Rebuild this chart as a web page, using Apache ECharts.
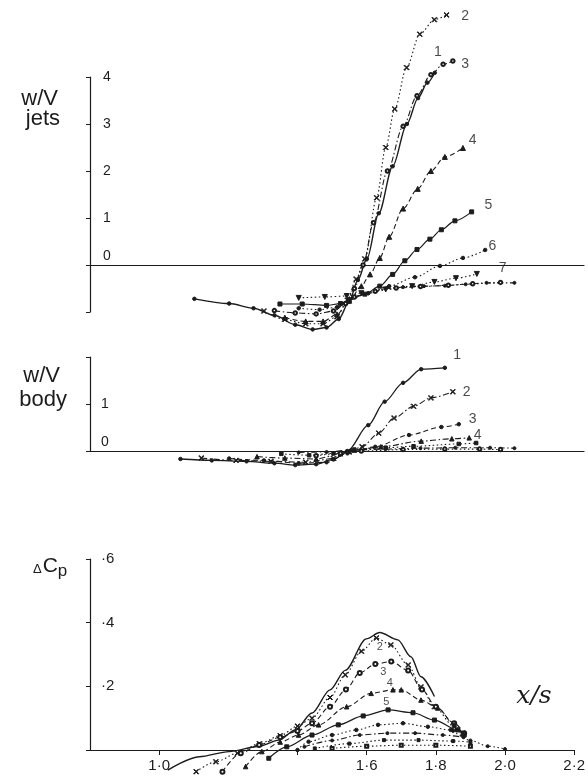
<!DOCTYPE html>
<html>
<head>
<meta charset="utf-8">
<script src="https://cdn.jsdelivr.net/npm/echarts@6/dist/echarts.min.js"></script>
<style>
html, body { margin: 0; padding: 0; background: #fff; }
#chart { width: 588px; height: 780px; }
</style>
</head>
<body>
<div id="chart"></div>
<script>
// x/s axis, shared by the three panels
const xTickValues = [1.0, 1.4, 1.6, 1.8, 2.0, 2.2];
const xLabelValues = [1.0, 1.6, 1.8, 2.0, 2.2];

// w/V jets, curves 1..7 and the two flat ones underneath
const jets1 = [[1.10,-0.72],[1.20,-0.82],[1.27,-0.92],[1.33,-1.07],[1.39,-1.27],[1.44,-1.37],[1.48,-1.33],[1.515,-1.15],[1.545,-0.78],[1.57,-0.32],[1.596,0.13],[1.63,1.1],[1.67,2.1],[1.711,3.0],[1.743,3.55],[1.77,3.88],[1.791,4.09]];
const jets2 = [[1.30,-0.98],[1.36,-1.16],[1.42,-1.25],[1.47,-1.25],[1.51,-1.1],[1.54,-0.75],[1.565,-0.3],[1.59,0.13],[1.624,1.43],[1.65,2.5],[1.676,3.32],[1.71,4.2],[1.748,4.91],[1.79,5.22],[1.825,5.32]];
const jets3 = [[1.33,-0.97],[1.39,-1.02],[1.45,-1.04],[1.50,-0.98],[1.535,-0.82],[1.56,-0.5],[1.585,0.0],[1.615,0.9],[1.655,2.0],[1.70,2.95],[1.74,3.6],[1.78,4.05],[1.815,4.27],[1.843,4.34]];
const jets4 = [[1.36,-1.12],[1.42,-1.2],[1.47,-1.2],[1.51,-1.05],[1.545,-0.76],[1.58,-0.45],[1.605,-0.2],[1.633,0.15],[1.66,0.6],[1.70,1.2],[1.742,1.62],[1.78,2.0],[1.82,2.3],[1.872,2.49]];
const jets5 = [[1.346,-0.83],[1.41,-0.83],[1.48,-0.86],[1.52,-0.82],[1.545,-0.74],[1.59,-0.62],[1.633,-0.45],[1.67,-0.2],[1.705,0.09],[1.74,0.33],[1.777,0.55],[1.81,0.75],[1.849,0.94],[1.897,1.13]];
const jets6 = [[1.40,-0.92],[1.46,-0.95],[1.51,-0.9],[1.545,-0.74],[1.60,-0.6],[1.66,-0.45],[1.734,-0.26],[1.806,-0.02],[1.872,0.15],[1.936,0.32]];
const jets7 = [[1.40,-0.70],[1.475,-0.68],[1.538,-0.66],[1.58,-0.6],[1.65,-0.52],[1.726,-0.45],[1.79,-0.36],[1.852,-0.28],[1.912,-0.19]];
const jets8 = [[1.545,-0.73],[1.60,-0.6],[1.65,-0.5],[1.70,-0.47],[1.76,-0.45],[1.82,-0.44],[1.88,-0.41],[1.94,-0.38],[2.02,-0.38]];
const jets9 = [[1.56,-0.68],[1.62,-0.56],[1.68,-0.49],[1.75,-0.46],[1.83,-0.43],[1.90,-0.40],[1.98,-0.37]];
const jetsTags = [['2',1.878,5.30],['1',1.80,4.52],['3',1.878,4.28],['4',1.90,2.66],['5',1.945,1.28],['6',1.957,0.40],['7',1.986,-0.06]];

// w/V body
const body1 = [[1.06,-0.17],[1.15,-0.20],[1.25,-0.22],[1.33,-0.26],[1.39,-0.30],[1.45,-0.28],[1.50,-0.18],[1.54,0.0],[1.60,0.55],[1.647,1.05],[1.70,1.45],[1.752,1.74],[1.82,1.77]];
const body2 = [[1.12,-0.15],[1.22,-0.20],[1.32,-0.22],[1.42,-0.24],[1.50,-0.16],[1.545,-0.02],[1.582,0.09],[1.63,0.38],[1.674,0.70],[1.73,0.95],[1.78,1.13],[1.843,1.26]];
const body3 = [[1.20,-0.16],[1.30,-0.20],[1.40,-0.26],[1.48,-0.24],[1.54,-0.05],[1.62,0.09],[1.717,0.34],[1.81,0.51],[1.86,0.57]];
const body4 = [[1.28,-0.12],[1.36,-0.15],[1.45,-0.17],[1.52,-0.06],[1.56,0.02],[1.636,0.09],[1.752,0.21],[1.84,0.26],[1.89,0.28]];
const body5 = [[1.35,-0.06],[1.43,-0.09],[1.50,-0.05],[1.56,0.03],[1.65,0.07],[1.73,0.10],[1.86,0.15],[1.91,0.17]];
const body6 = [[1.40,-0.03],[1.48,-0.02],[1.55,0.02],[1.65,0.04],[1.75,0.06],[1.85,0.07],[1.95,0.07],[2.02,0.06]];
const body7 = [[1.45,-0.10],[1.52,-0.05],[1.58,0.0],[1.70,0.03],[1.82,0.04],[1.92,0.04],[1.98,0.03]];
const bodyTags = [['1',1.855,2.04],['2',1.883,1.26],['3',1.90,0.68],['4',1.914,0.34]];

// delta Cp
const cp1 = [[1.025,-0.063],[1.116,-0.021],[1.202,-0.005],[1.29,0.012],[1.346,0.031],[1.394,0.063],[1.442,0.116],[1.494,0.189],[1.538,0.25],[1.599,0.349],[1.638,0.369],[1.69,0.346],[1.728,0.293],[1.757,0.23],[1.796,0.168]];
const cp2 = [[1.107,-0.068],[1.164,-0.037],[1.226,-0.01],[1.29,0.02],[1.35,0.045],[1.40,0.075],[1.442,0.10],[1.494,0.165],[1.538,0.236],[1.585,0.31],[1.628,0.352],[1.67,0.33],[1.72,0.267],[1.757,0.198],[1.796,0.136],[1.853,0.073],[1.878,0.053]];
const cp3 = [[1.183,-0.068],[1.236,-0.01],[1.289,0.016],[1.35,0.04],[1.40,0.06],[1.442,0.084],[1.494,0.136],[1.54,0.19],[1.58,0.242],[1.625,0.27],[1.671,0.278],[1.72,0.25],[1.76,0.19],[1.80,0.136],[1.853,0.084],[1.882,0.053]];
const cp4 = [[1.25,-0.052],[1.297,-0.005],[1.35,0.025],[1.403,0.047],[1.461,0.079],[1.542,0.136],[1.613,0.178],[1.676,0.189],[1.70,0.189],[1.757,0.157],[1.806,0.132],[1.853,0.079],[1.88,0.05]];
const cp5 = [[1.317,-0.026],[1.369,0.01],[1.442,0.047],[1.518,0.079],[1.59,0.107],[1.662,0.126],[1.734,0.117],[1.796,0.094],[1.863,0.063],[1.882,0.047]];
const cp6 = [[1.40,0.0],[1.432,0.026],[1.50,0.047],[1.57,0.063],[1.633,0.079],[1.705,0.084],[1.777,0.073],[1.843,0.063],[1.88,0.05]];
const cp7 = [[1.42,0.01],[1.50,0.03],[1.58,0.047],[1.66,0.053],[1.74,0.053],[1.82,0.047],[1.88,0.04]];
const cp8 = [[1.45,0.005],[1.55,0.02],[1.65,0.031],[1.75,0.031],[1.85,0.028],[1.90,0.025]];
const cp9 = [[1.50,0.005],[1.60,0.012],[1.70,0.015],[1.80,0.015],[1.90,0.012]];
const cpTail = [[1.85,0.06],[1.90,0.03],[1.95,0.012],[2.0,0.003]];
const cpTags = [['2',1.638,0.323],['3',1.648,0.246],['4',1.667,0.21],['5',1.657,0.152]];

const ink = '#1c1c1c';
const font = 'Liberation Sans';
const dashes = { solid: 'solid', dot: [1.5, 2.5], dash: [5, 3], dashdot: [6, 2.5, 1.5, 2.5] };
const xMark = 'path://M0,1L1,0L5,4L9,0L10,1L6,5L10,9L9,10L5,6L1,10L0,9L4,5Z';

// one hand-drawn curve
const curve = (data, panel, dash, symbol, size, width, rotate) => ({
  type: 'line',
  data: data,
  xAxisIndex: panel,
  yAxisIndex: panel,
  smooth: 0.3,
  smoothMonotone: 'x',
  clip: false,
  silent: true,
  symbol: symbol || 'none',
  showSymbol: !!symbol,
  symbolSize: size || 4,
  symbolRotate: rotate || 0,
  lineStyle: { color: ink, width: width || 1.1, type: dashes[dash] },
  itemStyle: { color: ink, borderColor: ink, borderWidth: 1 }
});

// curve numbers written next to the curves
const tags = (list, panel, size) => ({
  type: 'scatter',
  xAxisIndex: panel,
  yAxisIndex: panel,
  symbolSize: 0,
  clip: false,
  silent: true,
  data: list.map(t => ({ name: t[0], value: [t[1], t[2]] })),
  label: { show: true, position: 'inside', formatter: '{b}', color: ink, fontSize: size, fontFamily: font }
});

const shiftedZero = {
  z: { padding: [0, 0, 18, 0], fontSize: 14, color: ink, fontFamily: font }
};

const mychart = echarts.init(document.getElementById('chart'));
const options = {
  animation: false,
  backgroundColor: '#fff',
  grid: [
    { left: 90, right: 4, top: 77, height: 235 },
    { left: 90, right: 4, top: 357, height: 94 },
    { left: 90, right: 11, top: 559, height: 191 }
  ],
  xAxis: [
    {
      gridIndex: 0, type: 'value', min: 0.8, max: 2.22,
      axisLine: { onZero: true, lineStyle: { color: ink, width: 1.2 } },
      axisTick: { show: false }, axisLabel: { show: false }, splitLine: { show: false }
    },
    {
      gridIndex: 1, type: 'value', min: 0.8, max: 2.22,
      axisLine: { onZero: true, lineStyle: { color: ink, width: 1.2 } },
      axisTick: { show: false }, axisLabel: { show: false }, splitLine: { show: false }
    },
    {
      gridIndex: 2, type: 'value', min: 0.8, max: 2.2,
      axisLine: { lineStyle: { color: ink, width: 1.2 } },
      axisTick: { customValues: xTickValues, length: 5, lineStyle: { color: ink } },
      axisLabel: {
        customValues: xLabelValues, margin: 8, color: ink, fontSize: 15, fontFamily: font,
        formatter: v => v.toFixed(1).replace('.', '·')
      },
      splitLine: { show: false }
    }
  ],
  yAxis: [
    {
      gridIndex: 0, type: 'value', min: -1, max: 4, interval: 1,
      axisLine: { show: true, onZero: false, lineStyle: { color: ink, width: 1.2 } },
      axisTick: { length: 4, lineStyle: { color: ink } },
      axisLabel: {
        inside: true, margin: 13, color: ink, fontSize: 14, fontFamily: font, rich: shiftedZero,
        formatter: v => v < 0 ? '' : (v === 0 ? '{z|0}' : String(v))
      },
      splitLine: { show: false }
    },
    {
      gridIndex: 1, type: 'value', min: 0, max: 2, interval: 1,
      axisLine: { show: true, onZero: false, lineStyle: { color: ink, width: 1.2 } },
      axisTick: { length: 4, lineStyle: { color: ink } },
      axisLabel: {
        inside: true, margin: 11, color: ink, fontSize: 14, fontFamily: font, rich: shiftedZero,
        formatter: v => v === 0 ? '{z|0}' : (v === 1 ? '1' : '')
      },
      splitLine: { show: false }
    },
    {
      gridIndex: 2, type: 'value', min: 0, max: 0.6, interval: 0.2,
      axisLine: { show: true, onZero: false, lineStyle: { color: ink, width: 1.2 } },
      axisTick: { length: 4, lineStyle: { color: ink } },
      axisLabel: {
        inside: true, margin: 11, color: ink, fontSize: 15, fontFamily: font,
        formatter: v => v === 0 ? '' : '·' + Math.round(v * 10)
      },
      splitLine: { show: false }
    }
  ],
  graphic: [
    { type: 'text', x: 58, y: 110, style: { text: 'w/V', font: '22px "Liberation Sans"', fill: ink, align: 'right', verticalAlign: 'bottom' } },
    { type: 'text', x: 60, y: 130, style: { text: 'jets', font: '22px "Liberation Sans"', fill: ink, align: 'right', verticalAlign: 'bottom' } },
    { type: 'text', x: 60, y: 387, style: { text: 'w/V', font: '22px "Liberation Sans"', fill: ink, align: 'right', verticalAlign: 'bottom' } },
    { type: 'text', x: 67, y: 411, style: { text: 'body', font: '22px "Liberation Sans"', fill: ink, align: 'right', verticalAlign: 'bottom' } },
    {
      type: 'text', x: 33, y: 566,
      style: {
        text: '{d|Δ}{c|C}{p|p}', fill: ink, verticalAlign: 'middle',
        rich: {
          d: { fontSize: 13, fontFamily: font, padding: [6, 1, 0, 0] },
          c: { fontSize: 21, fontFamily: font },
          p: { fontSize: 17, fontFamily: font, padding: [10, 0, 0, 0] }
        }
      }
    },
    { type: 'text', x: 534, y: 696, style: { text: 'x/s', font: 'italic 25px "DejaVu Serif"', fill: ink, align: 'center', verticalAlign: 'middle' } }
  ],
  series: [
    curve(jets1, 0, 'solid', 'circle', 3.5, 1.4),
    curve(jets2, 0, 'dot', xMark, 5, 1.1),
    curve(jets3, 0, 'dashdot', 'emptyCircle', 3.5, 1.1),
    curve(jets4, 0, 'dash', 'triangle', 5, 1.1),
    curve(jets5, 0, 'solid', 'rect', 4, 1.2),
    curve(jets6, 0, 'dot', 'circle', 3.5, 1.1),
    curve(jets7, 0, 'dot', 'triangle', 5, 1.1, 180),
    curve(jets8, 0, 'dashdot', 'circle', 3, 1.1),
    curve(jets9, 0, 'dot', 'emptyCircle', 3.5, 1.1),
    tags(jetsTags, 0, 14),

    curve(body1, 1, 'solid', 'circle', 3.5, 1.3),
    curve(body2, 1, 'dashdot', xMark, 5, 1.1),
    curve(body3, 1, 'dash', 'circle', 3.5, 1.1),
    curve(body4, 1, 'dashdot', 'triangle', 4.5, 1.1),
    curve(body5, 1, 'dot', 'rect', 3.5, 1.1),
    curve(body6, 1, 'dashdot', 'circle', 3, 1.1),
    curve(body7, 1, 'dot', 'emptyCircle', 3.5, 1.1),
    tags(bodyTags, 1, 14),

    curve(cp1, 2, 'solid', null, 4, 1.4),
    curve(cp2, 2, 'dot', xMark, 5, 1.1),
    curve(cp3, 2, 'dash', 'emptyCircle', 4, 1.1),
    curve(cp4, 2, 'dash', 'triangle', 4.5, 1.1),
    curve(cp5, 2, 'solid', 'rect', 4, 1.2),
    curve(cp6, 2, 'dot', 'circle', 3.5, 1.1),
    curve(cp7, 2, 'dashdot', 'circle', 3, 1.1),
    curve(cp8, 2, 'dot', 'rect', 3, 1.1),
    curve(cp9, 2, 'dot', 'emptyRect', 3, 1.1),
    curve(cpTail, 2, 'dot', 'circle', 3, 1.1),
    tags(cpTags, 2, 11)
  ]
};
mychart.setOption(options);
</script>
</body>
</html>
